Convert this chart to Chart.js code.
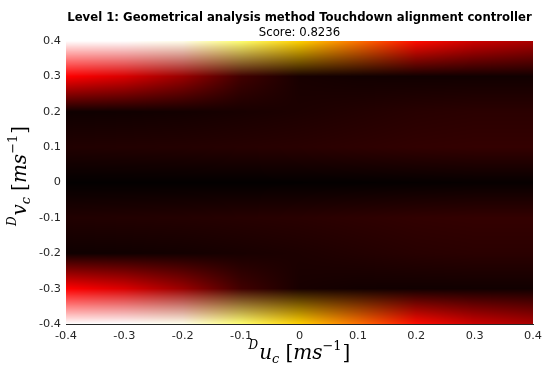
<!DOCTYPE html>
<html>
<head>
<meta charset="utf-8">
<script src="https://cdn.jsdelivr.net/npm/chart.js@4.4.1/dist/chart.umd.min.js"></script>
<style>
  html, body { margin: 0; padding: 0; background: #fff; }
  #wrap { width: 542px; height: 367px; }
</style>
</head>
<body>
<div id="wrap"><canvas id="scoreMap" width="542" height="367"></canvas></div>
<script>
// Sample positions of the score grid
const uValues = [-0.4, -0.3, -0.2, -0.1, 0, 0.1, 0.2, 0.3, 0.4];
const vValues = [0.4, 0.3, 0.2, 0.1, 0, -0.1, -0.2, -0.3, -0.4];

// Normalised score at each node, one row per v value (top row first)
const scoreRows = [
  [1.00, 1.00, 0.98, 0.86, 0.68, 0.54, 0.39, 0.30, 0.25],
  [0.375, 0.32, 0.225, 0.095, 0.035, 0.027, 0.025, 0.025, 0.025],
  [0.022, 0.024, 0.028, 0.035, 0.042, 0.050, 0.058, 0.062, 0.062],
  [0.048, 0.050, 0.052, 0.056, 0.060, 0.066, 0.072, 0.075, 0.075],
  [0.005, 0.005, 0.005, 0.005, 0.005, 0.006, 0.008, 0.010, 0.010],
  [0.048, 0.050, 0.052, 0.056, 0.060, 0.066, 0.072, 0.075, 0.075],
  [0.022, 0.024, 0.028, 0.035, 0.042, 0.050, 0.058, 0.062, 0.062],
  [0.375, 0.32, 0.225, 0.095, 0.035, 0.027, 0.025, 0.025, 0.025],
  [1.00, 1.00, 0.98, 0.86, 0.68, 0.54, 0.39, 0.30, 0.25]
];

const tickValues = [-0.4, -0.3, -0.2, -0.1, 0, 0.1, 0.2, 0.3, 0.4];

const titleText = 'Level 1: Geometrical analysis method Touchdown alignment controller';
const subtitleText = 'Score: 0.8236';

// MATLAB-style "hot" colour map, t in [0, 1]
function hot(t) {
    const c = v => Math.max(0, Math.min(1, v));
    return [
        255 * c(t / 0.375),
        255 * c((t - 0.375) / 0.375),
        255 * c((t - 0.75) / 0.25)
    ];
}

// index of the segment holding val, plus the fraction along it
function locate(values, val) {
    const n = values.length;
    for (let i = 0; i < n - 1; i++) {
        const a = values[i], b = values[i + 1];
        const lo = Math.min(a, b), hi = Math.max(a, b);
        if (val >= lo && val <= hi) return [i, (val - a) / (b - a)];
    }
    const first = Math.abs(val - values[0]) < Math.abs(val - values[n - 1]);
    return first ? [0, 0] : [n - 2, 1];
}

const nodeColors = scoreRows.map(row => row.map(hot));

// paints the interpolated score field into the plot area
const heatmapPlugin = {
    id: 'heatmap',
    beforeDatasetsDraw(chart) {
        const { ctx, chartArea: area, scales: { x, y } } = chart;
        const w = Math.round(area.right - area.left);
        const h = Math.round(area.bottom - area.top);
        const off = document.createElement('canvas');
        off.width = w;
        off.height = h;
        const octx = off.getContext('2d');
        const img = octx.createImageData(w, h);

        const cols = [];
        for (let px = 0; px < w; px++) {
            cols.push(locate(uValues, x.getValueForPixel(area.left + px + 0.5)));
        }
        for (let py = 0; py < h; py++) {
            const [r, fr] = locate(vValues, y.getValueForPixel(area.top + py + 0.5));
            for (let px = 0; px < w; px++) {
                const [c, fc] = cols[px];
                const k = (py * w + px) * 4;
                for (let ch = 0; ch < 3; ch++) {
                    const top = nodeColors[r][c][ch] * (1 - fc) + nodeColors[r][c + 1][ch] * fc;
                    const bot = nodeColors[r + 1][c][ch] * (1 - fc) + nodeColors[r + 1][c + 1][ch] * fc;
                    img.data[k + ch] = top * (1 - fr) + bot * fr;
                }
                img.data[k + 3] = 255;
            }
        }
        octx.putImageData(img, 0, 0);
        ctx.save();
        ctx.drawImage(off, area.left, area.top, w, h);
        ctx.restore();
    }
};

// draws a label made of pieces (italic letters, sub/superscripts)
function drawMath(ctx, parts, cx, baseline, rotated) {
    ctx.save();
    ctx.translate(cx, baseline);
    if (rotated) ctx.rotate(-Math.PI / 2);
    let total = 0;
    parts.forEach(p => {
        ctx.font = p.font;
        p.w = ctx.measureText(p.text).width;
        total += p.w + (p.gap || 0);
    });
    let pos = -total / 2;
    ctx.fillStyle = '#000';
    ctx.textAlign = 'left';
    ctx.textBaseline = 'alphabetic';
    parts.forEach(p => {
        pos += p.gap || 0;
        ctx.font = p.font;
        ctx.fillText(p.text, pos, p.dy || 0);
        pos += p.w;
    });
    ctx.restore();
}

const serif = '"DejaVu Serif"';
function axisLabel(letter) {
    return [
        { text: 'D', font: `italic 12px ${serif}`, dy: -10 },
        { text: letter, font: `italic 20px ${serif}`, gap: 1 },
        { text: 'c', font: `italic 13px ${serif}`, dy: 4 },
        { text: '[', font: `20px ${serif}`, gap: 6 },
        { text: 'ms', font: `italic 20px ${serif}` },
        { text: '\u22121', font: `13px ${serif}`, dy: -9 },
        { text: ']', font: `20px ${serif}`, gap: 1 }
    ];
}

const textPlugin = {
    id: 'plotText',
    afterDraw(chart) {
        const { ctx, chartArea: area } = chart;
        const mid = (area.left + area.right) / 2;
        ctx.save();
        ctx.fillStyle = '#000';
        ctx.textAlign = 'center';
        ctx.textBaseline = 'alphabetic';
        ctx.font = 'bold 11.7px "DejaVu Sans"';
        ctx.fillText(titleText, mid, 20.5);
        ctx.font = '11.7px "DejaVu Sans"';
        ctx.fillText(subtitleText, mid, 35.5);
        ctx.restore();

        drawMath(ctx, axisLabel('u'), mid, 359, false);
        drawMath(ctx, axisLabel('v'), 25.5, 176, true);
    }
};

const nodes = [];
vValues.forEach((v, r) => uValues.forEach((u, c) => nodes.push({ x: u, y: v, s: scoreRows[r][c] })));

const axisColor = '#262626';
const tickFont = { family: '"DejaVu Sans"', size: 11.3 };

new Chart(document.getElementById('scoreMap').getContext('2d'), {
    type: 'scatter',
    data: {
        datasets: [{
            label: 'Score',
            data: nodes,
            pointRadius: 0,
            pointHoverRadius: 0
        }]
    },
    options: {
        responsive: false,
        animation: false,
        layout: { padding: { top: 41, right: 9, bottom: 0, left: 0 } },
        plugins: {
            legend: { display: false },
            tooltip: { enabled: false }
        },
        scales: {
            x: {
                type: 'linear',
                min: -0.4,
                max: 0.4,
                afterBuildTicks: s => { s.ticks = tickValues.map(v => ({ value: v })); },
                afterFit: s => {
                    s.height = 43;
                    s.paddingLeft = 0;
                    s.paddingRight = 0;
                },
                grid: { display: false, drawTicks: false },
                border: { display: true, color: axisColor, width: 1 },
                ticks: {
                    color: axisColor,
                    font: tickFont,
                    padding: 5,
                    maxRotation: 0,
                    autoSkip: false
                }
            },
            y: {
                type: 'linear',
                min: -0.4,
                max: 0.4,
                afterBuildTicks: s => { s.ticks = tickValues.map(v => ({ value: v })); },
                afterFit: s => {
                    s.width = 66;
                    s.paddingTop = 0;
                    s.paddingBottom = 0;
                },
                grid: { display: false, drawTicks: false },
                border: { display: true, color: axisColor, width: 1 },
                ticks: {
                    color: axisColor,
                    font: tickFont,
                    padding: 5,
                    autoSkip: false
                }
            }
        }
    },
    plugins: [heatmapPlugin, textPlugin]
});
</script>
</body>
</html>
